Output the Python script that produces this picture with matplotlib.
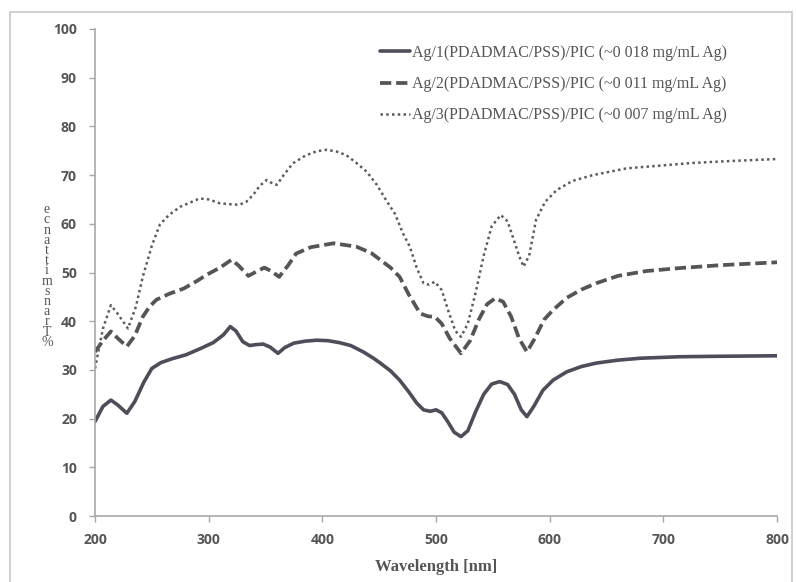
import matplotlib
matplotlib.use("Agg")
import matplotlib.pyplot as plt
from matplotlib.patches import Rectangle

# --- data ---
x1 = [200, 207, 214, 220, 228, 235, 243, 250, 258, 268, 280, 292, 304, 313, 319, 324, 330, 336, 342, 348,
      354, 361, 367, 375, 385, 395, 405, 415, 425, 436, 445, 451, 460, 468, 476, 483, 489, 495, 500, 505,
      510, 516, 522, 528, 535, 542, 549, 556, 563, 569, 575, 580, 586, 594, 603, 615, 628, 641, 660, 680,
      714, 750, 800]
y1 = [19.4, 22.5, 23.8, 22.8, 21.1, 23.5, 27.5, 30.3, 31.5, 32.3, 33.1, 34.3, 35.6, 37.2, 38.9, 38.0, 35.8,
      35.0, 35.2, 35.3, 34.7, 33.4, 34.6, 35.5, 35.9, 36.1, 36.0, 35.6, 35.0, 33.7, 32.4, 31.4, 29.8, 27.9,
      25.5, 23.2, 21.8, 21.5, 21.8, 21.2, 19.5, 17.2, 16.3, 17.5, 21.5, 25.0, 27.1, 27.6, 27.0, 25.0, 21.8,
      20.4, 22.5, 25.8, 27.9, 29.6, 30.7, 31.4, 32.0, 32.4, 32.7, 32.8, 32.9]

x2 = [200, 207, 214, 220, 228, 235, 242, 248, 254, 265, 278, 290, 298, 310, 320, 326, 335, 342, 349, 355,
      362, 370, 377, 390, 410, 430, 443, 451, 460, 468, 476, 486, 493, 499, 505, 512, 522, 530, 538, 545,
      552, 559, 566, 573, 580, 587, 595, 603, 615, 628, 641, 660, 685, 714, 750, 800]
y2 = [33.7, 36.0, 37.9, 36.5, 34.8, 37.0, 40.9, 43.0, 44.4, 45.6, 46.7, 48.3, 49.5, 51.0, 52.6, 51.5, 49.3,
      50.2, 51.0, 50.3, 49.1, 51.5, 53.9, 55.2, 56.0, 55.3, 54.0, 52.6, 51.0, 49.1, 45.5, 41.6, 41.0, 40.9,
      39.5, 36.5, 33.4, 36.0, 40.5, 43.5, 44.7, 44.0, 41.0, 36.5, 33.7, 36.5, 40.3, 42.3, 44.8, 46.5, 47.8,
      49.3, 50.3, 50.9, 51.5, 52.1]

x3 = [200, 207, 214, 220, 229, 236, 242, 250, 257, 265, 275, 285, 292, 300, 310, 320, 327, 333, 339, 345,
      351, 356, 360, 366, 374, 385, 395, 404, 413, 421, 430, 439, 448, 456, 464, 471, 477, 483, 489, 494,
      499, 505, 511, 517, 522, 528, 535, 542, 549, 557, 563, 568, 573, 577, 582, 588, 596, 606, 620, 638,
      668, 700, 726, 760, 800]
y3 = [30.3, 38.5, 43.3, 41.5, 38.5, 43.0, 49.1, 55.5, 59.8, 61.8, 63.5, 64.5, 65.2, 65.0, 64.2, 64.0, 63.9,
      64.5, 65.9, 67.8, 69.0, 68.3, 68.0, 70.0, 72.4, 74.0, 74.9, 75.2, 74.8, 74.1, 72.5, 70.7, 68.0, 64.9,
      62.0, 58.0, 55.3, 51.0, 47.8, 47.5, 48.1, 46.4, 42.0, 38.0, 36.8, 39.5, 46.0, 53.5, 59.5, 61.8, 60.5,
      57.0, 53.5, 51.2, 53.5, 60.8, 64.5, 66.9, 68.8, 70.0, 71.4, 72.0, 72.5, 72.9, 73.3]

labels = ["Ag/1(PDADMAC/PSS)/PIC (~0 018 mg/mL Ag)",
          "Ag/2(PDADMAC/PSS)/PIC (~0 011 mg/mL Ag)",
          "Ag/3(PDADMAC/PSS)/PIC (~0 007 mg/mL Ag)"]
xticks = [200, 300, 400, 500, 600, 700, 800]
yticks = [0, 10, 20, 30, 40, 50, 60, 70, 80, 90, 100]
xlabel = "Wavelength [nm]"
ylabel = "% Transmittance"

W, H = 796, 582
fig = plt.figure(figsize=(W / 100, H / 100), dpi=100)
fig.patch.set_facecolor("white")
fig.patches.append(Rectangle((10 / W, -0.05), (792 - 10) / W, 1 - 12 / H + 0.05,
                             transform=fig.transFigure, fill=False,
                             edgecolor="#c8c8c8", linewidth=1.2))

ax = fig.add_axes([95 / W, 1 - 516 / H, (777 - 95) / W, (516 - 29) / H])

ax.plot(x1, y1, color="#4e4e5a", linewidth=2.6, linestyle="-", label=labels[0],
        solid_capstyle="round", solid_joinstyle="round")
ax.plot(x2, y2, color="#555555", linewidth=2.7, linestyle=(0, (3.0, 1.3)), label=labels[1])
ax.plot(x3, y3, color="#5c5c5c", linewidth=1.8, linestyle=(0, (1.0, 1.3)), label=labels[2])

ax.set_xlim(200, 800)
ax.set_ylim(0, 100)
ax.set_xticks(xticks)
ax.set_yticks(yticks)
for s in ["top", "right"]:
    ax.spines[s].set_visible(False)
for s in ["left", "bottom"]:
    ax.spines[s].set_color("#a8a8a8")
    ax.spines[s].set_linewidth(1.2)
ax.tick_params(axis="both", direction="out", length=4, width=1, color="#a8a8a8",
               labelcolor="#555555", labelsize=10)
ax.tick_params(axis="y", pad=9)
ax.tick_params(axis="x", pad=8)
for lab in ax.get_xticklabels() + ax.get_yticklabels():
    lab.set_fontfamily("Open Sans")
    lab.set_fontweight("bold")

ax.set_xlabel(xlabel, fontfamily="Liberation Serif", fontweight="bold", fontsize=12,
              color="#555555", labelpad=9)

# stacked y-label as in reference
stack = "\n".join(list(ylabel.replace(" ", ""))[::-1])
fig.text(47 / W, 1 - 276 / H, stack, fontfamily="Liberation Serif", fontsize=10,
         color="#555555", ha="center", va="center", linespacing=0.72)

leg = ax.legend(loc="upper left", bbox_to_anchor=((380 - 95) / (777 - 95), 1 - (45 - 29) / (516 - 29)),
                frameon=False, prop={"family": "Liberation Serif", "size": 11.5},
                handlelength=1.9, handletextpad=0.1, labelspacing=0.95, borderaxespad=0,
                borderpad=0)
for t in leg.get_texts():
    t.set_color("#555555")

fig.savefig("out.png", dpi=100)
